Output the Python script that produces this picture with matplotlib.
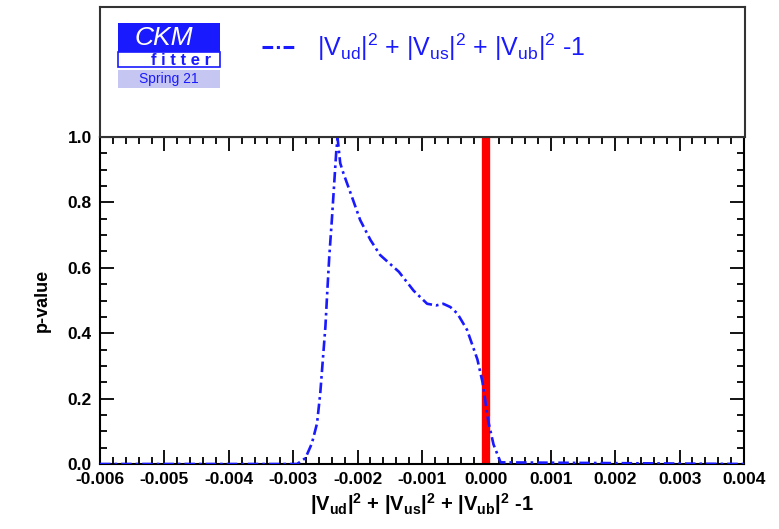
import matplotlib
matplotlib.use("Agg")
import matplotlib.pyplot as plt
from matplotlib.patches import Rectangle
from matplotlib.ticker import MultipleLocator, FormatStrFormatter

plt.rcParams["font.family"] = ["Liberation Sans", "DejaVu Sans"]
plt.rcParams["mathtext.default"] = "regular"

# p-value scan of |Vud|^2 + |Vus|^2 + |Vub|^2 - 1
unit_x = [-0.0060, -0.00294, -0.00281, -0.00271, -0.00263, -0.00258, -0.00254,
          -0.00250, -0.00247, -0.00244, -0.00240, -0.00236, -0.00233, -0.00231,
          -0.00227, -0.00222, -0.00209, -0.00196, -0.00180, -0.00165, -0.00136,
          -0.00113, -0.00092, -0.00078, -0.00067, -0.00056, -0.00045, -0.00030,
          -0.00014, -0.00006, 0.00003, 0.00011, 0.00022, 0.0040]
unit_p = [0.0, 0.0, 0.018, 0.063, 0.124, 0.216, 0.318,
          0.42, 0.53, 0.634, 0.746, 0.868, 0.96, 0.996,
          0.92, 0.889, 0.818, 0.746, 0.685, 0.639, 0.588,
          0.53, 0.49, 0.485, 0.49, 0.48, 0.46, 0.41,
          0.32, 0.25, 0.13, 0.06, 0.005, 0.0]
sm_value = 0.0

blue = "#1a1aff"
label_math = r"$|V_{ud}|^2$ + $|V_{us}|^2$ + $|V_{ub}|^2$ -1"

fig = plt.figure(figsize=(7.79, 5.29), dpi=100)
W, H = 779, 529

# main axes
ax = fig.add_axes([100 / W, 1 - 464 / H, 644 / W, 327 / H])
ax.axvline(sm_value, color="red", lw=6, zorder=2)
ax.plot(unit_x, unit_p, color=blue, lw=1.9, dashes=(4, 1.5, 1, 1.5), zorder=3)
ax.set_xlim(-0.006, 0.004)
ax.set_ylim(0, 1)
ax.xaxis.set_major_locator(MultipleLocator(0.001))
ax.xaxis.set_minor_locator(MultipleLocator(0.0002))
ax.yaxis.set_major_locator(MultipleLocator(0.2))
ax.yaxis.set_minor_locator(MultipleLocator(0.05))
ax.xaxis.set_major_formatter(FormatStrFormatter("%.3f"))
ax.yaxis.set_major_formatter(FormatStrFormatter("%.1f"))
ax.tick_params(which="both", direction="in", top=True, right=True, width=1.3, labelsize=12.5, pad=6)
ax.tick_params(which="major", length=10)
ax.tick_params(which="minor", length=5)
for lab in ax.get_xticklabels() + ax.get_yticklabels():
    lab.set_fontweight("bold")
for s in ax.spines.values():
    s.set_linewidth(1.5)
ax.set_xlabel(label_math, fontsize=14.5, fontweight="bold", labelpad=3)
ax.set_ylabel("p-value", fontsize=13, fontweight="bold", labelpad=12)

# legend box above
lax = fig.add_axes([100 / W, 1 - 137 / H, 645 / W, 130 / H])
lax.set_xticks([])
lax.set_yticks([])
for s in lax.spines.values():
    s.set_linewidth(1.5)
    s.set_color("#333333")
lax.set_xlim(0, 645)
lax.set_ylim(130, 0)
lax.plot([162, 197], [40, 40], color=blue, lw=2.2, dashes=(3.5, 1.2, 1, 1.2))
lax.text(217, 40, label_math, color=blue, fontsize=18, va="center", ha="left")

# CKMfitter logo
lax.add_patch(Rectangle((18, 16), 102, 29, facecolor=blue, edgecolor="none"))
lax.add_patch(Rectangle((18, 45), 102, 15, facecolor="white", edgecolor=blue, lw=1.2))
lax.add_patch(Rectangle((18, 63), 102, 18, facecolor="#c6c6f2", edgecolor="none"))
lax.text(64, 31, "CKM", color="white", fontsize=19, style="italic", ha="center", va="center")
lax.text(111, 53.5, "f i t t e r", color=blue, fontsize=12, fontweight="bold", ha="right", va="center")
lax.text(69, 72, "Spring 21", color=blue, fontsize=10, ha="center", va="center")

fig.savefig("out.png", dpi=100)
